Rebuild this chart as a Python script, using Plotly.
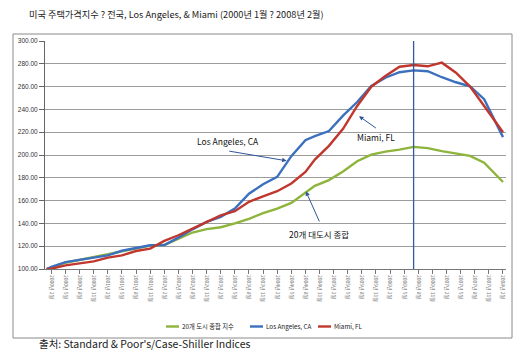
import plotly.graph_objects as go

# month index (0 = Jan 2000)
months = [0, 1, 4, 7, 10, 13, 16, 19, 22, 25, 28, 31, 34, 37, 40, 43, 46, 49, 52, 55,
          57, 60, 63, 66, 69, 72, 75, 78, 81, 84, 87, 90, 93, 96, 97]

composite20 = [100, 101, 105.5, 108, 110.5, 113, 116, 118, 120.5, 121, 126.5, 132, 135, 136.6,
               140, 144, 149, 153, 158, 167, 173, 178, 185.5, 194.5, 200.3, 203, 204.7, 207.1,
               206, 203.4, 201.2, 199.2, 193.2, 180.7, 176.3]

los_angeles = [100, 101.8, 106, 108, 110.5, 112, 116, 118.7, 120.8, 121, 127.5, 134.8, 141.3,
               145.7, 153, 166, 174.4, 180.8, 199, 213, 216.5, 221, 234.5, 246.5, 260.5, 267.8,
               272.6, 274.2, 273.5, 268.2, 263.8, 260.2, 249, 224, 215.7]

miami = [100, 100.3, 103.2, 104.7, 106.7, 110, 112, 115.8, 117.9, 124.6, 129.6, 135.4, 141.3,
         147.1, 150.7, 158.9, 163.8, 168.2, 175, 185.2, 196, 208, 223, 243, 259.9, 269.3,
         277.4, 279, 277.8, 281, 272.2, 260, 243, 226.2, 220]

series_names = ["20개 도시 종합 지수", "Los Angeles, CA", "Miami, FL"]
series_colors = ["#8DB43B", "#3B70BE", "#C0372D"]

tick_months = [1, 4, 7, 10, 13, 16, 19, 22, 25, 28, 31, 34, 37, 40, 43, 46, 49, 52, 55, 58,
               61, 64, 67, 70, 73, 76, 79, 82, 85, 88, 91, 94, 97]
tick_labels = ["2000년 2월", "2000년 5월", "2000년 8월", "2000년 11월",
               "2001년 2월", "2001년 5월", "2001년 8월", "2001년 11월",
               "2002년 2월", "2002년 5월", "2002년 8월", "2002년 11월",
               "2003년 2월", "2003년 5월", "2003년 8월", "2003년 11월",
               "2004년 2월", "2004년 5월", "2004년 8월", "2004년 11월",
               "2005년 2월", "2005년 5월", "2005년 8월", "2005년 11월",
               "2006년 2월", "2006년 5월", "2006년 8월", "2006년 11월",
               "2007년 2월", "2007년 5월", "2007년 8월", "2007년 11월",
               "2008년 2월"]
y_ticks = [100, 120, 140, 160, 180, 200, 220, 240, 260, 280, 300]
peak_month = 78

fig = go.Figure()
for name, vals, col in zip(series_names, [composite20, los_angeles, miami], series_colors):
    fig.add_trace(go.Scatter(x=months, y=vals, mode="lines", name=name,
                             line=dict(color=col, width=2.4), showlegend=False))

W, H = 520, 356
ml, mr, mt, mb = 45, 14, 41, 87
pw, ph = W - ml - mr, H - mt - mb


def px(xp):
    return (xp - ml) / pw


def py(yp):
    return (H - mb - yp) / ph


fig.update_layout(
    width=W, height=H,
    margin=dict(l=ml, r=mr, t=mt, b=mb, autoexpand=False),
    paper_bgcolor="white", plot_bgcolor="white",
    font=dict(family="Liberation Sans, Arial, sans-serif", color="#222"),
    xaxis=dict(range=[-0.36, 97.64], showgrid=False, zeroline=False,
               showline=True, linecolor="#777", linewidth=1,
               ticks="outside", ticklen=4, tickcolor="#777",
               tickvals=tick_months, ticktext=tick_labels, tickangle=90,
               tickfont=dict(size=5, color="#777", family="Noto Sans CJK KR"),
               automargin=False),
    yaxis=dict(range=[100, 300], tickvals=y_ticks, tickformat=".2f",
               showgrid=True, gridcolor="#9c9c9c", gridwidth=1, zeroline=False,
               showline=True, linecolor="#666", linewidth=1,
               ticks="outside", ticklen=5, tickcolor="#666",
               tickfont=dict(size=6.5, color="#333"), automargin=False),
)

shapes = [
    # outer chart border
    dict(type="rect", xref="paper", yref="paper", x0=px(13), x1=px(512), y0=py(338), y1=py(34),
         line=dict(color="#8a8a8a", width=1), fillcolor="rgba(0,0,0,0)", layer="below"),
    # vertical marker line
    dict(type="line", xref="x", yref="paper", x0=peak_month, x1=peak_month, y0=0, y1=1,
         line=dict(color="#2F5AA0", width=1.3)),
]

annotations = []
# legend (manual)
leg_x = [166, 250, 318]
for lx, name, col in zip(leg_x, series_names, series_colors):
    shapes.append(dict(type="line", xref="paper", yref="paper", x0=px(lx), x1=px(lx + 13),
                       y0=py(326.5), y1=py(326.5), line=dict(color=col, width=2.4)))
    annotations.append(dict(xref="paper", yref="paper", x=px(lx + 14), y=py(326.5),
                            text=name, showarrow=False, xanchor="left", yanchor="middle",
                            font=dict(size=6.3, color="#222", family="Noto Sans CJK KR")))

# title
annotations.append(dict(xref="paper", yref="paper", x=px(27), y=py(14),
                        text="미국 주택가격지수 ? 전국, Los Angeles, & Miami (2000년 1월 ? 2008년 2월)",
                        showarrow=False, xanchor="left", yanchor="middle",
                        font=dict(size=9.2, color="#222", family="Noto Sans CJK KR")))
# source
annotations.append(dict(xref="paper", yref="paper", x=px(37), y=py(343),
                        text="출처: Standard &amp; Poor's/Case-Shiller Indices",
                        showarrow=False, xanchor="left", yanchor="middle",
                        font=dict(size=10.5, color="#222", family="Noto Sans CJK KR")))

# in-plot labels with arrows
labels = [
    ("Los Angeles, CA", 38.5, 212.2, 38.5, 203.6, 51.0, 194.9),
    ("Miami, FL", 69.9, 215.7, 70.3, 222.7, 66.4, 234.1),
    ("20개 대도시 종합", 57.9, 130.5, 58.1, 140.4, 55.1, 168.2),
]
for txt, tx, ty, ax, ay, hx, hy in labels:
    annotations.append(dict(x=tx, y=ty, xref="x", yref="y", text=txt, showarrow=False,
                            font=dict(size=8.5, color="#111", family="Noto Sans CJK KR")))
    annotations.append(dict(x=hx, y=hy, xref="x", yref="y", ax=ax, ay=ay, axref="x", ayref="y",
                            text="", showarrow=True, arrowhead=2, arrowsize=0.9,
                            arrowwidth=1, arrowcolor="#2F5597"))

fig.update_layout(shapes=shapes, annotations=annotations)
fig.write_html("out.html", config={"displayModeBar": False},
               post_script="document.body.style.margin='0';document.body.style.overflow='hidden';")
